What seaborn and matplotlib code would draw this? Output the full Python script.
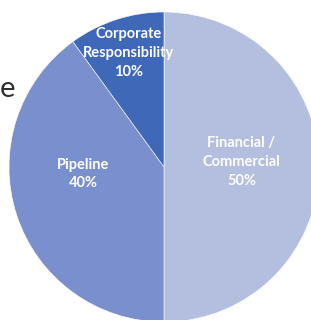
import matplotlib
matplotlib.use('Agg')
import matplotlib.pyplot as plt
import seaborn as sns

# slice data (clockwise from 12 o'clock)
categories = ['Financial /\nCommercial', 'Pipeline', 'Corporate\nResponsibility']
shares = [50, 40, 10]
colors = ['#B4BEDE', '#7A90CE', '#4068B8']

sns.set_theme(style='white')
plt.rcParams['font.family'] = ['Lato', 'DejaVu Sans']

fig = plt.figure(figsize=(3.11, 3.20), dpi=100)
# pie of radius 155 px centred at (164, 167) px from the top-left
ax = fig.add_axes([9 / 311, -2 / 320, 310 / 311, 310 / 320])
wedges, _ = ax.pie(shares, colors=colors, startangle=90, counterclock=False,
                   wedgeprops=dict(linewidth=0.4, edgecolor='white'))
ax.set_xlim(-1, 1)
ax.set_ylim(-1, 1)
ax.set_aspect('auto')
ax.axis('off')

# label positions in pie units
label_pos = [(0.50, 0.03), (-0.52, -0.045), (-0.23, 0.735)]
for cat, val, (x, y) in zip(categories, shares, label_pos):
    ax.text(x, y, f'{cat}\n{val}%', ha='center', va='center', color='white',
            fontsize=10.5, fontweight='bold', linespacing=1.45)

# the tail of a title word cut off at the left edge
fig.text(15 / 311, 1 - 97 / 320, 'e', ha='right', va='baseline',
         fontsize=21, color='#303030')

fig.savefig('out.png', dpi=100)
plt.close(fig)
